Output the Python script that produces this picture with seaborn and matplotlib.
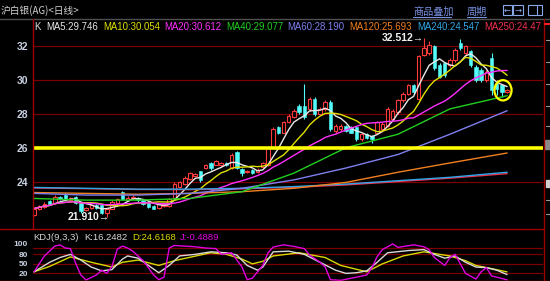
import numpy as np
import pandas as pd
import matplotlib
matplotlib.use("Agg")
import matplotlib.pyplot as plt
import seaborn as sns
from matplotlib.patches import Ellipse, Rectangle
from matplotlib.lines import Line2D

# ---------------- data ----------------
opens = [22.00, 22.35, 22.50, 22.85, 22.75, 23.10, 23.20, 22.90, 23.10, 22.75,
         22.30, 22.45, 22.60, 22.60, 22.15, 22.40, 22.75, 23.40, 22.90, 23.00,
         23.05, 22.90, 22.80, 22.55, 22.45, 22.55, 22.55, 23.05, 23.65, 23.85,
         24.15, 24.30, 24.60, 24.80, 25.10, 25.00, 24.95, 25.10, 24.80, 25.75,
         24.75, 24.55, 24.70, 24.55, 24.85, 24.95, 26.00, 27.20, 26.90, 27.50,
         27.80, 28.50, 28.50, 28.30, 28.90, 28.00, 28.30, 28.70, 27.00, 27.10,
         27.30, 27.20, 27.20, 26.50, 26.80, 26.70, 26.90, 27.10, 27.30, 27.70,
         28.10, 28.80, 29.20, 29.70, 28.90, 31.50, 31.60, 32.00, 30.90, 31.00,
         30.90, 31.20, 32.20, 31.60, 31.70, 30.80, 30.60, 30.00, 31.30, 29.80,
         29.70, 29.30]
closes = [22.40, 22.55, 22.70, 22.70, 23.10, 22.95, 22.95, 23.05, 22.75, 22.25,
          22.45, 22.60, 22.45, 22.15, 22.35, 22.80, 22.95, 22.95, 23.05, 23.10,
          22.90, 22.70, 22.50, 22.40, 22.65, 22.70, 22.95, 23.85, 23.95, 24.20,
          24.50, 24.45, 24.10, 25.00, 24.80, 25.20, 25.10, 24.95, 25.60, 24.80,
          24.50, 24.65, 24.50, 24.70, 25.10, 26.00, 27.10, 26.90, 27.50, 27.90,
          28.20, 28.10, 27.80, 28.90, 28.00, 28.30, 28.70, 27.10, 27.30, 27.30,
          27.00, 26.90, 26.50, 26.80, 26.60, 26.50, 27.50, 27.40, 28.30, 28.20,
          28.80, 29.20, 29.70, 29.30, 31.40, 31.90, 32.10, 30.70, 30.20, 30.30,
          31.20, 31.80, 31.90, 32.00, 30.90, 30.00, 30.00, 30.50, 29.40, 29.50,
          29.30, 29.40]
highs = [22.45, 22.60, 22.80, 22.90, 23.20, 23.15, 23.30, 23.10, 23.15, 22.80,
         22.50, 22.65, 22.70, 22.70, 22.40, 22.90, 23.00, 23.45, 23.15, 23.20,
         23.10, 22.95, 22.85, 22.60, 22.70, 22.75, 23.00, 23.95, 24.05, 24.30,
         24.55, 24.50, 24.65, 25.05, 25.15, 25.25, 25.15, 25.15, 25.70, 25.80,
         24.80, 24.70, 24.75, 24.80, 25.15, 26.10, 27.20, 27.30, 27.60, 28.00,
         28.30, 28.60, 29.80, 29.00, 29.00, 28.40, 28.80, 28.80, 27.40, 27.40,
         27.35, 27.30, 27.25, 26.90, 26.85, 26.75, 27.60, 27.50, 28.40, 28.30,
         28.90, 29.30, 29.80, 29.80, 31.50, 32.512, 32.30, 32.10, 31.00, 31.10,
         31.30, 31.90, 32.45, 32.10, 31.80, 30.90, 30.70, 30.60, 31.60, 30.00,
         29.80, 29.50]
lows = [21.95, 22.30, 22.45, 22.60, 22.70, 22.90, 22.90, 22.85, 22.70, 22.15,
        22.25, 22.40, 22.35, 22.05, 21.91, 22.35, 22.70, 22.90, 22.85, 22.95,
        22.80, 22.60, 22.45, 22.35, 22.40, 22.50, 22.50, 23.00, 23.60, 23.80,
        24.10, 24.25, 24.00, 24.75, 24.70, 24.95, 24.90, 24.90, 24.75, 24.75,
        24.30, 24.50, 24.45, 24.50, 24.80, 24.90, 25.95, 26.80, 26.85, 27.45,
        27.75, 28.00, 27.70, 28.20, 27.90, 27.95, 28.20, 27.00, 26.90, 27.00,
        26.95, 26.85, 26.40, 26.40, 26.50, 26.30, 26.85, 27.00, 27.25, 27.60,
        28.00, 28.70, 29.10, 29.20, 28.80, 31.40, 31.50, 30.60, 30.10, 30.20,
        30.80, 31.10, 31.80, 31.50, 30.80, 29.90, 29.90, 29.90, 29.10, 29.10,
        29.00, 29.25]

# long moving averages read at sampled candles
ma_idx = [0, 10, 20, 30, 40, 50, 60, 70, 80, 91]
ma40 = [23.00, 22.90, 22.90, 23.00, 23.40, 24.50, 26.00, 26.80, 28.30, 29.08]
ma60 = [23.30, 23.20, 23.20, 23.30, 23.60, 24.10, 24.80, 25.60, 26.80, 28.19]
ma120 = [23.35, 23.30, 23.25, 23.30, 23.40, 23.60, 23.95, 24.55, 25.10, 25.69]
ma240 = [23.65, 23.60, 23.55, 23.55, 23.60, 23.70, 23.85, 24.05, 24.25, 24.55]
ma250 = [23.62, 23.58, 23.53, 23.52, 23.57, 23.66, 23.80, 24.00, 24.20, 24.47]

# KDJ read at sampled candles
k_idx = [0, 3, 5, 7, 9, 11, 13, 15, 17, 18, 20, 22, 24, 26, 28, 31, 34, 37, 39, 41,
         43, 44, 46, 49, 52, 55, 58, 60, 62, 64, 66, 68, 72, 75, 77, 79, 81, 83, 85, 87,
         89, 91]
k_val = [25, 55, 70, 80, 62, 40, 28, 32, 65, 75, 68, 45, 22, 45, 75, 80, 88, 85, 78, 45,
         30, 40, 88, 90, 80, 55, 30, 20, 22, 28, 55, 85, 92, 95, 80, 68, 75, 55, 40, 38,
         30, 16.25]
d_idx = [0, 3, 7, 11, 15, 17, 20, 24, 27, 32, 34, 37, 40, 42, 44, 46, 51, 56, 59, 62,
         64, 67, 71, 75, 78, 80, 83, 85, 88, 91]
d_val = [25, 42, 72, 55, 40, 55, 62, 45, 60, 78, 85, 80, 65, 50, 58, 75, 85, 70, 45, 33,
         25, 50, 75, 88, 80, 75, 60, 45, 35, 24.62]
j_idx = [0, 2, 4, 5, 6, 7, 8, 9, 10, 12, 13, 14, 15, 16, 17, 18, 19, 21, 23, 24, 25, 26,
         27, 29, 31, 33, 35, 36, 38, 40, 41, 42, 44, 45, 46, 48, 50, 52, 53, 55, 56, 57,
         59, 62, 64, 65, 66, 67, 69, 70, 73, 75, 76, 77, 79, 80, 81, 83, 85, 86, 87, 88, 91]
j_val = [25, 75, 106, 110, 100, 98, 52, 15, -1, 15, 30, 20, 42, 96, 106, 100, 90, 60, 15,
         0, 8, 100, 108, 106, 104, 100, 98, 80, 85, 40, 0, 5, 45, 85, 103, 110, 105, 98, 78,
         55, 40, 0, -2, 8, 15, 38, 73, 95, 113, 102, 110, 104, 95, 70, 45, 70, 80, 20, 2, 25,
         38, 12, -0.49]

title = "沪白银(AG)<日线>"
ma_labels = ["K", "MA5:29.746", "MA10:30.054", "MA20:30.612", "MA40:29.077",
             "MA60:28.190", "MA120:25.693", "MA240:24.547", "MA250:24.47"]
kdj_labels = ["KDJ(9,3,3)", "K:16.2482", "D:24.6168", "J:-0.4889"]
price_ticks = [24, 26, 28, 30, 32]
kdj_ticks = [20, 50, 80, 100]

# ---------------- style ----------------
RED = "#ff3a3a"
CYAN = "#54fcfc"
GRID = "#7a0000"
FRAME = "#a00000"
TICKC = "#c8d0e0"
C_MA5, C_MA10, C_MA20, C_MA40 = "#e8e8e8", "#e0e000", "#ff30ff", "#20d020"
C_MA60, C_MA120, C_MA240, C_MA250 = "#7f7ff0", "#f08020", "#30a8e8", "#f03050"

sns.set_theme(style="dark")
plt.rcParams["font.family"] = ["Liberation Sans", "Noto Sans CJK SC", "DejaVu Sans"]

W, H = 550, 281
def px(x):
    return x / W
def py(y):
    return 1 - y / H

fig = plt.figure(figsize=(5.5, 2.81), dpi=100)
fig.patch.set_facecolor("black")
ax = fig.add_axes([px(33), py(227), px(543) - px(33), py(20) - py(227)])
axk = fig.add_axes([px(33), py(281), px(543) - px(33), py(228.5) - py(281)])

for a in (ax, axk):
    a.set_facecolor("black")
    a.grid(False)
    for s in a.spines.values():
        s.set_visible(False)
    a.set_xticks([])
    a.tick_params(axis="y", length=0, pad=3.6, colors=TICKC, labelsize=7.5)

n = len(closes)
df = pd.DataFrame({"i": np.arange(n), "open": opens, "close": closes,
                   "high": highs, "low": lows})
up = df["close"] >= df["open"]
bot = df[["open", "close"]].min(axis=1)
hgt = (df["close"] - df["open"]).abs().clip(lower=0.04)

# grid lines and the drawn 26 line
for v in [24, 28, 30, 32]:
    ax.axhline(v, color=GRID, lw=0.9, zorder=1)
ax.axhline(26, color="#ffff00", lw=2.6, zorder=6)

# candles
ax.vlines(df["i"], df["low"], df["high"], colors=np.where(up, RED, CYAN), lw=0.8, zorder=3)
ax.bar(df["i"][up], hgt[up], bottom=bot[up], width=0.66, facecolor="black",
       edgecolor=RED, lw=0.8, zorder=4)
ax.bar(df["i"][~up], hgt[~up], bottom=bot[~up], width=0.66, color=CYAN,
       edgecolor=CYAN, lw=0.4, zorder=4)

# moving averages
for win, col in [(5, C_MA5), (10, C_MA10), (20, C_MA20)]:
    sns.lineplot(x=df["i"], y=df["close"].rolling(win, min_periods=1).mean(), ax=ax,
                 color=col, lw=1.0, zorder=5)
for vals, col in [(ma250, C_MA250), (ma240, C_MA240), (ma120, C_MA120),
                  (ma60, C_MA60), (ma40, C_MA40)]:
    sns.lineplot(x=ma_idx, y=vals, ax=ax, color=col, lw=1.0, zorder=5)

ax.set_xlim(-0.2, 97.9)
ax.set_ylim(21.31, 33.56)
ax.set_yticks(price_ticks)
ax.set_yticklabels([str(t) for t in price_ticks], fontweight="bold")
ax.set_xlabel("")
ax.set_ylabel("")

# high / low marks
hi = int(np.argmax(highs))
lo = int(np.argmin(lows))
ax.text(hi - 0.1, highs[hi], f"{highs[hi]:.3f}\u2192", ha="right", va="center",
        color="#f0f0f0", fontsize=7.5, fontweight="bold", zorder=8)
ax.text(lo + 0.5, lows[lo], f"{lows[lo]:.3f}\u2192", ha="right", va="center",
        color="#f0f0f0", fontsize=7.5, fontweight="bold", zorder=8)

# yellow circle around last candles
ax.add_patch(Ellipse((n - 1.8, closes[-1]), width=3.3, height=1.2, fill=False,
                     edgecolor="#ffff00", lw=1.6, zorder=7))

# KDJ panel
for v in kdj_ticks:
    axk.axhline(v, color=GRID, lw=0.9, zorder=1)
sns.lineplot(x=k_idx, y=k_val, ax=axk, color="#d8d8d8", lw=1.0, zorder=4)
sns.lineplot(x=d_idx, y=d_val, ax=axk, color="#d8d800", lw=1.0, zorder=3)
sns.lineplot(x=j_idx, y=j_val, ax=axk, color="#e000e0", lw=1.0, zorder=5)
axk.set_xlim(-0.2, 97.9)
axk.set_ylim(-4.06, 161.6)
axk.set_yticks(kdj_ticks)
axk.set_yticklabels([str(t) for t in kdj_ticks], fontweight="bold")
axk.tick_params(axis="y", labelsize=6.0)
for lab in axk.get_yticklabels():
    if lab.get_text() == "100":
        lab.set_va("bottom")
axk.set_xlabel("")
axk.set_ylabel("")

# ---------------- frame lines ----------------
fig.add_artist(Line2D([0, 1], [py(18.5), py(18.5)], color="#505050", lw=1.0))
fig.add_artist(Line2D([px(32.5), px(32.5)], [py(19), py(228.5)], color=FRAME, lw=1.0))
fig.add_artist(Line2D([0, px(543)], [py(228.5), py(228.5)], color=FRAME, lw=1.0))
fig.add_artist(Line2D([px(543.5), px(543.5)], [py(19), 0], color=FRAME, lw=1.0))
fig.add_artist(Line2D([0, 1], [py(280.5), py(280.5)], color=FRAME, lw=1.0))
fig.add_artist(Line2D([px(545), 1], [py(24), py(24)], color="#ff2020", lw=1.5))

# ---------------- header texts ----------------
fig.text(px(1), py(11), title, color="#d0d0d0", fontsize=7.0, va="center", ha="left",
         family=["Noto Sans CJK SC", "DejaVu Sans"])
fig.text(px(413), py(11.5), "商品叠加", color="#7890e0", fontsize=7.3, va="center",
         family=["Noto Sans CJK SC", "DejaVu Sans"])
fig.add_artist(Line2D([px(413), px(451)], [py(16.5), py(16.5)], color="#7890e0", lw=0.8))
fig.text(px(467), py(11.5), "周期", color="#7890e0", fontsize=7.3, va="center",
         family=["Noto Sans CJK SC", "DejaVu Sans"])
fig.add_artist(Line2D([px(467), px(486)], [py(16.5), py(16.5)], color="#7890e0", lw=0.8))
for x0, w0, sym in [(503, 9, "\u2190"), (513, 10, "\u2192"), (528, 14, "")]:
    fig.add_artist(Rectangle((px(x0), py(15)), px(w0), py(5) - py(15), fill=False,
                             edgecolor="#8aa8e8", lw=0.8))
    if sym:
        fig.text(px(x0 + w0 / 2), py(10), sym, color="#8aa8e8", fontsize=6,
                 ha="center", va="center", family=["DejaVu Sans"])
fig.add_artist(Line2D([px(537), px(537)], [py(6), py(14)], color="#8aa8e8", lw=0.8))

ma_x = [34, 46, 103, 164, 226, 287, 349, 417, 484]
ma_c = ["#e0e0e0", C_MA5, C_MA10, C_MA20, C_MA40, C_MA60, C_MA120, C_MA240, C_MA250]
for lab, x0, col in zip(ma_labels, ma_x, ma_c):
    fig.text(px(x0), py(26.5), lab, color=col, fontsize=6.9, va="center", ha="left")

kdj_x = [33, 84, 132, 180]
kdj_c = ["#d0d0d0", "#d8d8d8", "#d8d800", "#e000e0"]
for lab, x0, col in zip(kdj_labels, kdj_x, kdj_c):
    fig.text(px(x0), py(237.5), lab, color=col, fontsize=6.8, va="center", ha="left")

# right-side boxes
fig.add_artist(Rectangle((px(544.5), py(149)), px(6), py(140) - py(149), color="#8a8a8a"))
fig.add_artist(Rectangle((px(546), py(187)), px(4), py(180) - py(187), color="#d0d0d0"))
for yy in [40, 62, 84, 106, 126, 200, 214]:
    fig.add_artist(Line2D([px(546), 1], [py(yy), py(yy)], color="#9a9a9a", lw=0.8))

fig.savefig("out.png", dpi=100, facecolor="black")
